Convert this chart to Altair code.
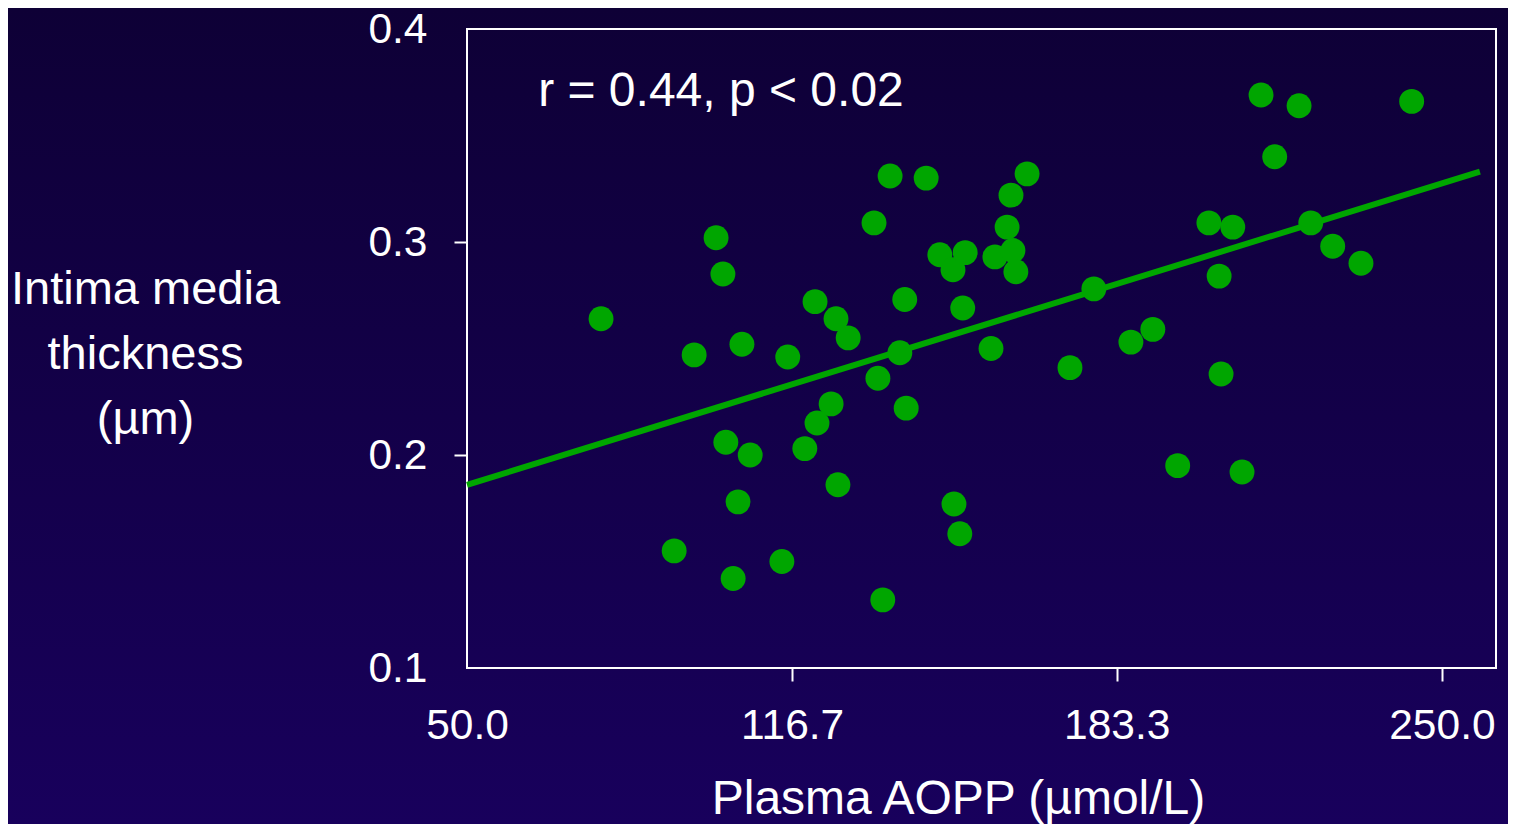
import altair as alt
import pandas as pd

# Data
aopp = [77.5, 96.6, 101.1, 102.5, 106.4, 103.1, 108.1, 105.6, 92.5, 104.6,
        114.6, 115.8, 121.4, 125.7, 128.2, 124.7, 121.8, 119.3, 126.1, 133.5,
        136.8, 144.2, 139.8, 138.8, 134.3, 140.1, 135.3, 147.0, 149.7, 152.2,
        151.7, 157.5, 149.9, 151.1, 164.9, 161.6, 160.8, 158.3, 162.0, 162.6,
        178.6, 173.7, 186.2, 190.7, 195.8, 202.2, 207.1, 204.3, 204.7, 209.0,
        212.9, 220.7, 215.7, 223.1, 227.6, 233.4, 243.8]
imt = [0.264, 0.247, 0.302, 0.285, 0.252, 0.206, 0.200, 0.178, 0.155, 0.142,
       0.150, 0.246, 0.272, 0.264, 0.255, 0.224, 0.215, 0.203, 0.186, 0.309,
       0.331, 0.330, 0.273, 0.248, 0.236, 0.222, 0.132, 0.294, 0.287, 0.295,
       0.269, 0.250, 0.177, 0.163, 0.332, 0.322, 0.307, 0.293, 0.296, 0.286,
       0.278, 0.241, 0.253, 0.259, 0.195, 0.309, 0.307, 0.284, 0.238, 0.192,
       0.369, 0.364, 0.340, 0.309, 0.298, 0.290, 0.366]

fit_x = [50.0, 257.8]
fit_y = [0.186, 0.333]

x_ticks = [50.0, 116.7, 183.3, 250.0]
y_ticks = [0.1, 0.2, 0.3, 0.4]

annot_text = ["r = 0.44, p < 0.02"]
annot_x = [64.6]
annot_y = [0.364]

pts = pd.DataFrame({"x": aopp, "y": imt})
fit = pd.DataFrame({"x": fit_x, "y": fit_y})
ann = pd.DataFrame({"x": annot_x, "y": annot_y, "t": annot_text})

GREEN = "#00a600"
FONT = "Liberation Sans"
W, H = 1029, 639
PAD = {"left": 459, "top": 21, "right": 12, "bottom": 156}

xscale = alt.Scale(domain=[50, 261.1], nice=False, zero=False)
yscale = alt.Scale(domain=[0.1, 0.4], nice=False, zero=False)

xaxis = alt.Axis(
    values=x_ticks, format=".1f", title="Plasma AOPP (µmol/L)",
    grid=False, domain=False, tickSize=13, tickWidth=2, zindex=1,
    tickColor={"condition": {"test": "datum.value <= 50", "value": "transparent"}, "value": "white"},
    labelColor="white", labelFont=FONT, labelFontSize=42.5, labelPadding=23,
    labelFlush=False,
    titleColor="white", titleFont=FONT, titleFontSize=48, titleFontWeight="normal",
    titleX=491, titleY=145, titleAlign="center", titleBaseline="alphabetic",
)
yaxis = alt.Axis(
    values=y_ticks, format=".1f",
    title=["Intima media", "thickness", "(µm)"],
    grid=False, domain=False, tickSize=13, tickWidth=2, zindex=1,
    tickColor={"condition": {"test": "datum.value <= 0.1 || datum.value >= 0.4", "value": "transparent"}, "value": "white"},
    labelColor="white", labelFont=FONT, labelFontSize=42.5, labelPadding=27,
    labelFlush=False,
    titleColor="white", titleFont=FONT, titleFontSize=47, titleFontWeight="normal",
    titleAngle=0, titleX=-322, titleY=274, titleAlign="center",
    titleBaseline="alphabetic", titleLineHeight=65,
)

one = alt.Data(values=[{"a": 1}])

bg = alt.Chart(one).mark_rect(
    color=alt.Gradient(
        gradient="linear", x1=0, y1=0, x2=0, y2=1,
        stops=[alt.GradientStop(offset=0, color="#0e0036"),
               alt.GradientStop(offset=1, color="#18005c")],
    )
).encode(x=alt.value(-PAD["left"]), x2=alt.value(W + PAD["right"]),
         y=alt.value(-PAD["top"]), y2=alt.value(H + PAD["bottom"]))

frame = alt.Chart(one).mark_rect(filled=False, stroke="white", strokeWidth=2).encode(
    x=alt.value(0), x2=alt.value(W), y=alt.value(0), y2=alt.value(H))

line = alt.Chart(fit).mark_line(color=GREEN, strokeWidth=6).encode(
    x=alt.X("x:Q", scale=xscale, axis=xaxis),
    y=alt.Y("y:Q", scale=yscale, axis=yaxis),
)

dots = alt.Chart(pts).mark_circle(color=GREEN, opacity=1, size=620).encode(
    x=alt.X("x:Q", scale=xscale),
    y=alt.Y("y:Q", scale=yscale),
)

text = alt.Chart(ann).mark_text(
    align="left", baseline="alphabetic", color="white", font=FONT, fontSize=48
).encode(x=alt.X("x:Q", scale=xscale), y=alt.Y("y:Q", scale=yscale), text="t:N")

chart = alt.layer(bg, frame, line, dots, text).properties(
    width=W, height=H,
    autosize=alt.AutoSizeParams(type="none"),
    padding=PAD,
).configure(background="#13004a").configure_view(stroke=None)

chart.save("out.html", embed_options={"renderer": "svg", "actions": False})
